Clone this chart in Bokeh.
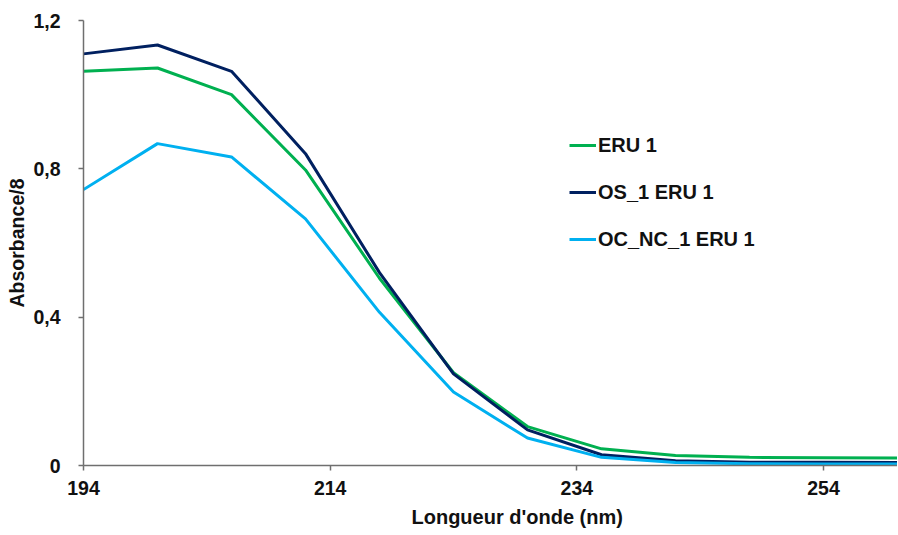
from bokeh.plotting import figure
from bokeh.models import FixedTicker, Legend, LegendItem, Title, Range1d
from bokeh.embed import file_html
from bokeh.resources import INLINE

# Data
wavelength = [194, 200, 206, 212, 218, 224, 230, 236, 242, 248, 254, 260]
eru_1 = [1.063, 1.072, 1.000, 0.797, 0.505, 0.250, 0.105, 0.045, 0.027, 0.022, 0.021, 0.020]
os_1_eru_1 = [1.110, 1.134, 1.063, 0.841, 0.520, 0.247, 0.096, 0.029, 0.013, 0.009, 0.009, 0.008]
oc_nc_1_eru_1 = [0.744, 0.868, 0.832, 0.665, 0.413, 0.198, 0.074, 0.022, 0.008, 0.005, 0.004, 0.004]

series_names = ["ERU 1", "OS_1 ERU 1", "OC_NC_1 ERU 1"]
series_values = [eru_1, os_1_eru_1, oc_nc_1_eru_1]
series_colors = ["#00B050", "#002060", "#00B0F0"]

x_ticks = [194, 214, 234, 254]
y_ticks = [0, 0.4, 0.8, 1.2]
y_tick_labels = {0: "0", 0.4: "0,4", 0.8: "0,8", 1.2: "1,2"}

FONT = "Liberation Sans"
FS = "19.5px"
LFS = "20px"

p = figure(width=897, height=533, output_backend="svg", toolbar_location=None,
           x_range=Range1d(194, 260), y_range=Range1d(0, 1.2),
           min_border_left=83, min_border_right=0, min_border_top=20,
           min_border_bottom=68)
p.outline_line_color = None
p.xgrid.grid_line_color = None
p.ygrid.grid_line_color = None
p.background_fill_color = "white"

renderers = []
for name, vals, col in zip(series_names, series_values, series_colors):
    r = p.line(wavelength, vals, line_color=col, line_width=3)
    renderers.append((name, r))

# axes
for ax in (p.xaxis[0], p.yaxis[0]):
    ax.axis_line_color = "#6f6f6f"
    ax.axis_line_width = 1.5
    ax.major_tick_line_color = "#6f6f6f"
    ax.major_tick_line_width = 1.5
    ax.major_tick_out = 5
    ax.major_tick_in = 0
    ax.minor_tick_line_color = None
    ax.major_label_text_font = FONT
    ax.major_label_text_font_style = "bold"
    ax.major_label_text_font_size = FS
    ax.major_label_text_color = "#111111"

p.xaxis.ticker = FixedTicker(ticks=x_ticks)
p.xaxis.major_label_standoff = 10
p.yaxis.ticker = FixedTicker(ticks=y_ticks)
p.yaxis.major_label_overrides = y_tick_labels
p.yaxis.major_label_standoff = 18

p.yaxis.axis_label = "Absorbance/8"
p.yaxis.axis_label_text_font = FONT
p.yaxis.axis_label_text_font_style = "bold"
p.yaxis.axis_label_text_font_size = FS
p.yaxis.axis_label_text_color = "#111111"
p.yaxis.axis_label_standoff = 2

xtitle = Title(text="Longueur d'onde (nm)", align="left", offset=328,
               text_font=FONT, text_font_style="bold", text_font_size=LFS,
               text_color="#111111", standoff=12)
p.add_layout(xtitle, "below")

legend = Legend(items=[LegendItem(label=n, renderers=[r]) for n, r in renderers],
                location=(486, 214))
legend.border_line_color = None
legend.background_fill_alpha = 0
legend.padding = 0
legend.margin = 0
legend.glyph_width = 27
legend.glyph_height = 24
legend.label_height = 24
legend.spacing = 23
legend.label_standoff = 2
legend.label_text_font = FONT
legend.label_text_font_style = "bold"
legend.label_text_font_size = LFS
legend.label_text_color = "#111111"
p.add_layout(legend)

open("out.html", "w").write(file_html(p, INLINE))
